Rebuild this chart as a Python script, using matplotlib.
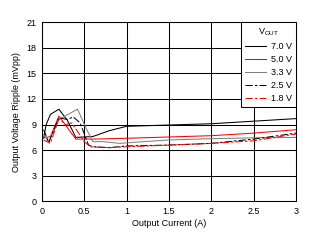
import matplotlib
matplotlib.use("Agg")
import matplotlib.pyplot as plt

plt.rcParams['font.family'] = ['Liberation Sans', 'DejaVu Sans']
plt.rcParams['font.size'] = 6.5

# Output ripple vs output current for each VOUT
x_70 = [0.02, 0.05, 0.1, 0.2, 0.3, 0.4, 0.6, 0.8, 1.0, 1.5, 2.0, 2.5, 3.0]
y_70 = [7.4, 9.0, 10.2, 10.8, 9.5, 7.5, 7.6, 8.3, 8.8, 8.95, 9.1, 9.4, 9.7]

x_50 = [0.02, 0.06, 0.1, 0.2, 0.4, 0.6, 1.0, 1.5, 2.0, 2.5, 3.0]
y_50 = [7.5, 7.5, 7.6, 10.0, 7.3, 7.3, 7.4, 7.55, 7.7, 8.0, 8.4]

x_33 = [0.02, 0.08, 0.2, 0.29, 0.42, 0.52, 0.6, 0.72, 0.92, 1.2, 1.5, 2.0, 2.5, 3.0]
y_33 = [7.8, 7.0, 9.6, 10.1, 10.8, 8.6, 7.0, 7.0, 6.8, 7.0, 7.2, 7.35, 7.45, 7.5]

x_25 = [0.02, 0.08, 0.2, 0.3, 0.37, 0.45, 0.55, 0.6, 0.8, 1.0, 1.5, 2.0, 2.5, 3.0]
y_25 = [8.4, 6.9, 9.8, 9.6, 9.9, 9.2, 6.6, 6.4, 6.3, 6.5, 6.6, 6.8, 7.3, 8.0]

x_18 = [0.02, 0.1, 0.2, 0.28, 0.35, 0.42, 0.5, 0.57, 0.8, 1.0, 1.5, 2.0, 2.5, 3.0]
y_18 = [7.2, 6.8, 9.7, 9.0, 9.2, 8.2, 7.0, 6.4, 6.3, 6.4, 6.6, 6.8, 7.1, 7.9]

xticks = [0, 0.5, 1, 1.5, 2, 2.5, 3]
xticklabels = ['0', '0.5', '1', '1.5', '2', '2.5', '3']
yticks = [0, 3, 6, 9, 12, 15, 18, 21]

fig = plt.figure(figsize=(3.13, 2.43), dpi=100)
ax = fig.add_axes([0.134, 0.171, 0.812, 0.738])

dash = (0, (7, 2, 2.5, 2))
ax.plot(x_70, y_70, color='black', linewidth=0.75, label='7.0 V')
ax.plot(x_50, y_50, color='red', linewidth=0.75, label='5.0 V')
ax.plot(x_33, y_33, color='gray', linewidth=0.75, label='3.3 V')
ax.plot(x_25, y_25, color='black', linewidth=0.75, linestyle=dash, label='2.5 V')
ax.plot(x_18, y_18, color='red', linewidth=0.75, linestyle=dash, label='1.8 V')

ax.set_xlim(0, 3)
ax.set_ylim(0, 21)
ax.set_xticks(xticks)
ax.set_xticklabels(xticklabels)
ax.set_yticks(yticks)
ax.tick_params(length=0, pad=4)
ax.grid(True, color='black', linewidth=0.75)
for s in ax.spines.values():
    s.set_linewidth(0.75)

ax.set_xlabel('Output Current (A)', labelpad=2)
ax.set_ylabel('Output Voltage Ripple (mVpp)', labelpad=4)

leg = ax.legend(title=r'V$_{\mathregular{OUT}}$', loc='upper right', borderaxespad=0,
                fancybox=False, framealpha=1, edgecolor='black',
                handlelength=2.3, handletextpad=0.6, labelspacing=0.45,
                borderpad=0.45, fontsize=6.5, title_fontsize=6.5)
leg.get_frame().set_linewidth(0.75)

fig.savefig('out.png', dpi=100)
